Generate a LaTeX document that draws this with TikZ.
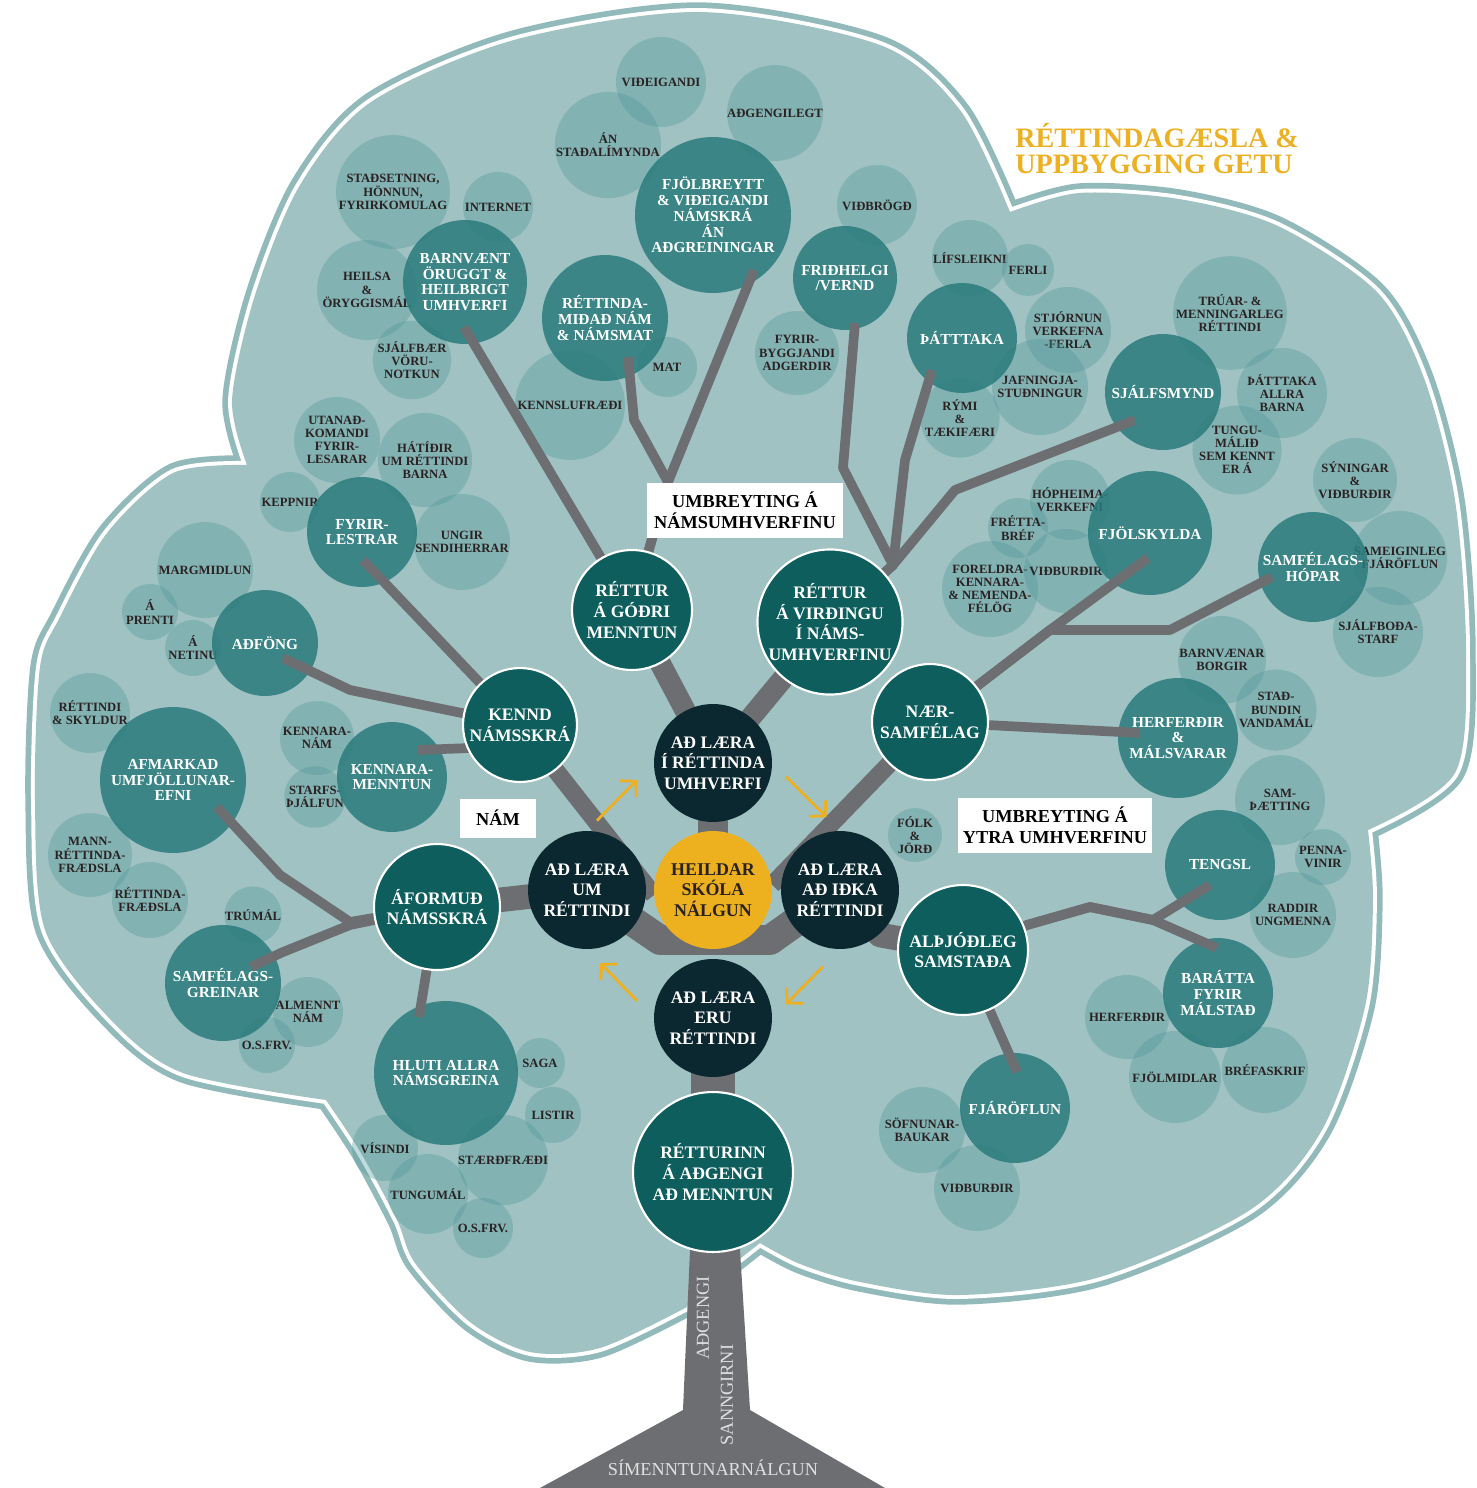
\documentclass[tikz,border=0pt]{standalone}
\usepackage{fontspec}
\setmainfont{Liberation Serif}
\usetikzlibrary{arrows.meta,calc}

\definecolor{cloudc}{HTML}{A0C2C3}
\definecolor{rimc}{HTML}{92BABB}
\definecolor{lightc}{HTML}{4E9597}
\definecolor{midc}{HTML}{2A7B7C}
\definecolor{mainc}{HTML}{0E5E5E}
\definecolor{corec}{HTML}{0B2730}
\definecolor{hubc}{HTML}{EDB120}
\definecolor{twigc}{HTML}{6D6E72}
\definecolor{inkc}{HTML}{2A2222}
\definecolor{goldc}{HTML}{ECB022}

\pgfdeclarelayer{back}
\pgfdeclarelayer{light}
\pgfdeclarelayer{mid}
\pgfdeclarelayer{twigs}
\pgfsetlayers{back,light,mid,twigs,main}

\tikzset{
  rad/.style={minimum size=#1*0.04cm},
  bub/.style={circle, inner sep=0pt, align=center},
  soft/.style={bub, fill=lightc, fill opacity=0.35, text opacity=1, text=inkc,
    font=\fontsize{7.2}{7.5}\selectfont\bfseries},
  deep/.style={bub, fill=midc, fill opacity=0.85, text opacity=1, text=white,
    font=\fontsize{8.7}{9}\selectfont\bfseries},
  ring/.style={bub, fill=mainc, draw=white, line width=1.2pt, text=white,
    font=\fontsize{10}{11.8}\selectfont\bfseries},
  core/.style={bub, fill=corec, text=white, font=\fontsize{10}{11.6}\selectfont\bfseries},
  sun/.style={bub, fill=hubc, text=inkc, font=\fontsize{10.2}{11.6}\selectfont\bfseries},
  tag/.style={fill=white, inner sep=0pt, align=center, minimum height=1.1cm, text=black,
    font=\fontsize{10.4}{12}\selectfont\bfseries},
  twig/.style={draw=twigc, line width=5.5pt, line join=round},
  limb/.style={draw=twigc, line width=12pt, line join=round},
  cyc/.style={draw=goldc, line width=1.6pt, -{Straight Barb[length=6pt,width=13pt]}},
  bark/.style={inner sep=0pt, text=white!88!black, font=\fontsize{10.4}{12}\selectfont},
}

\begin{document}
\begin{tikzpicture}[x=0.02cm, y=-0.02cm]
  \useasboundingbox (0,0) rectangle (1477,1488);

  % crown of the tree
  \begin{pgfonlayer}{back}
    \fill[white] (0,0) rectangle (1477,1488);
    \path[save path=\crown]
      plot[smooth] coordinates {(247,465) (232,400) (255,295) (300,185) (371,102) (514,40) (700,12) (880,45) (960,110) (1010,212)}
      -- plot[smooth] coordinates {(1010,212) (1079,193) (1179,199) (1278,226) (1377,292) (1424,378) (1455,500) (1466,650) (1455,773) (1368,830)}
      -- plot[smooth] coordinates {(1368,830) (1373,900) (1365,1007) (1322,1130) (1250,1210) (1100,1277) (960,1295) (860,1282) (800,1264) (760,1243)}
      -- (713,1280)
      -- plot[smooth] coordinates {(687,1307) (600,1348) (530,1352) (470,1322) (415,1263) (397,1220) (361,1153) (326,1100)}
      -- plot[smooth] coordinates {(326,1100) (183,1073) (111,1020) (45,930) (35,800) (40,667) (60,617) (107,533) (173,473) (247,465)}
      -- cycle;
    \path[draw=rimc, line width=11pt, line join=round, use path=\crown];
    \path[draw=white, line width=4.5pt, line join=round, use path=\crown];
    \path[fill=cloudc, use path=\crown];
  \end{pgfonlayer}

  % pale circles
  \begin{pgfonlayer}{light}
    \node[soft, rad=45] (videig) at (661,82) {VIÐEIGANDI};
    \node[soft, rad=48] (adgen) at (775,113) {AÐGENGILEGT};
    \node[soft, rad=52] (stadal) at (608,145) {ÁN\\STAÐALÍMYNDA};
    \node[soft, rad=57] (stads) at (393,192) {STAÐSETNING,\\HÖNNUN,\\FYRIRKOMULAG};
    \node[soft, rad=35] (inter) at (498,207) {INTERNET};
    \node[soft, rad=50] (heils) at (367,290) {HEILSA\\\&\\ÖRYGGISMÁL};
    \node[soft, rad=38] (sjbaer) at (412,360) {SJÁLFBÆR\\VÖRU-\\NOTKUN};
    \node[soft, rad=40] (vidbr) at (877,205) {VIÐBRÖGÐ};
    \node[soft, rad=42] (fyrib) at (797,353) {FYRIR-\\BYGGJANDI\\ADGERDIR};
    \node[soft, rad=30] (mat) at (667,367) {MAT};
    \node[soft, rad=55] (kennsl) at (570,405) {KENNSLUFRÆÐI};
    \node[soft, rad=38] (lifs) at (970,258) {LÍFSLEIKNI};
    \node[soft, rad=26] (ferli) at (1028,270) {FERLI};
    \node[soft, rad=43] (stjorn) at (1068,330) {STJÓRNUN\\VERKEFNA\\-FERLA};
    \node[soft, rad=48] (jafn) at (1040,387) {JAFNINGJA-\\STUÐNINGUR};
    \node[soft, rad=38] (rymi) at (960,418) {RÝMI\\\&\\TÆKIFÆRI};
    \node[soft, rad=55] (truar) at (1230,313) {TRÚAR- \&\\MENNINGARLEG\\RÉTTINDI};
    \node[soft, rad=45] (allra) at (1282,393) {ÞÁTTTAKA\\ALLRA\\BARNA};
    \node[soft, rad=43] (tungm) at (1237,450) {TUNGU-\\MÁLIÐ\\SEM KENNT\\ER Á};
    % right side
    \node[soft, rad=42] (syn) at (1355,480) {SÝNINGAR\\\&\\VIÐBURÐIR};
    \node[soft, rad=47] (sameig) at (1400,558) {SAMEIGINLEG\\FJÁRÖFLUN};
    \node[soft, rad=45] (sjbod) at (1378,632) {SJÁLFBOÐA-\\STARF};
    \node[soft, rad=40] (hoph) at (1070,500) {HÓPHEIMA-\\VERKEFNI};
    \node[soft, rad=30] (fretta) at (1018,528) {FRÉTTA-\\BRÉF};
    \node[soft, rad=45] (forel) at (990,589) {FORELDRA-\\KENNARA-\\\& NEMENDA-\\FÉLÖG};
    \node[soft, rad=42] (vidbA) at (1066,571) {VIÐBURÐIR};
    \node[soft, rad=44] (borgir) at (1222,660) {BARNVÆNAR\\BORGIR};
    \node[soft, rad=40] (stadb) at (1276,710) {STAÐ-\\BUNDIN\\VANDAMÁL};
    \node[soft, rad=45] (samth) at (1280,800) {SAM-\\ÞÆTTING};
    \node[soft, rad=28] (penna) at (1323,857) {PENNA-\\VINIR};
    \node[soft, rad=43] (raddir) at (1293,915) {RADDIR\\UNGMENNA};
    \node[soft, rad=42] (herfB) at (1127,1017) {HERFERÐIR};
    \node[soft, rad=46] (fjolm) at (1175,1077) {FJÖLMIDLAR};
    \node[soft, rad=43] (brefa) at (1265,1070) {BRÉFASKRIF};
    \node[soft, rad=43] (sofn) at (922,1130) {SÖFNUNAR-\\BAUKAR};
    \node[soft, rad=43] (vidbB) at (977,1188) {VIÐBURÐIR};
    \node[soft, rad=27] (folk) at (915,835) {FÓLK\\\&\\JÖRÐ};
    % left side
    \node[soft, rad=43] (utan) at (337,440) {UTANAÐ-\\KOMANDI\\FYRIR-\\LESARAR};
    \node[soft, rad=47] (hatid) at (425,460) {HÁTÍÐIR\\UM RÉTTINDI\\BARNA};
    \node[soft, rad=30] (kepp) at (290,502) {KEPPNIR};
    \node[soft, rad=48] (ungir) at (462,542) {UNGIR\\SENDIHERRAR};
    \node[soft, rad=48] (margm) at (205,570) {MARGMIDLUN};
    \node[soft, rad=28] (prent) at (150,612) {Á\\PRENTI};
    \node[soft, rad=28] (netin) at (193,648) {Á\\NETINU};
    \node[soft, rad=40] (skyld) at (90,713) {RÉTTINDI\\\& SKYLDUR};
    \node[soft, rad=37] (knam) at (317,738) {KENNARA-\\NÁM};
    \node[soft, rad=28] (starfs) at (315,797) {STARFS-\\ÞJÁLFUN};
    \node[soft, rad=42] (mannr) at (90,855) {MANN-\\RÉTTINDA-\\FRÆDSLA};
    \node[soft, rad=38] (rfr) at (150,900) {RÉTTINDA-\\FRÆÐSLA};
    \node[soft, rad=25] (trum) at (253,915) {TRÚMÁL};
    \node[soft, rad=35] (almen) at (308,1012) {ALMENNT\\NÁM};
    \node[soft, rad=28] (osfA) at (267,1045) {O.S.FRV.};
    \node[soft, rad=25] (saga) at (540,1063) {SAGA};
    \node[soft, rad=28] (listir) at (553,1115) {LISTIR};
    \node[soft, rad=33] (visind) at (385,1148) {VÍSINDI};
    \node[soft, rad=45] (staerd) at (503,1160) {STÆRÐFRÆÐI};
    \node[soft, rad=40] (tungu) at (428,1194) {TUNGUMÁL};
    \node[soft, rad=30] (osfB) at (483,1228) {O.S.FRV.};
  \end{pgfonlayer}

  % branch topics
  \begin{pgfonlayer}{mid}
    \node[deep, rad=78] (fjolb) at (713,215) {FJÖLBREYTT\\\& VIÐEIGANDI\\NÁMSKRÁ\\ÁN\\AÐGREININGAR};
    \node[deep, rad=62] (barn) at (465,282) {BARNVÆNT\\ÖRUGGT \&\\HEILBRIGT\\UMHVERFI};
    \node[deep, rad=63] (retmid) at (605,318) {RÉTTINDA-\\MIÐAÐ NÁM\\\& NÁMSMAT};
    \node[deep, rad=52] (frid) at (845,278) {FRIÐHELGI\\/VERND};
    \node[deep, rad=55] (thatt) at (962,338) {ÞÁTTTAKA};
    \node[deep, rad=58] (sjalf) at (1163,392) {SJÁLFSMYND};
    \node[deep, rad=62] (fjols) at (1150,533) {FJÖLSKYLDA};
    \node[deep, rad=55] (samh) at (1313,567) {SAMFÉLAGS-\\HÓPAR};
    \node[deep, rad=60] (herf) at (1178,738) {HERFERÐIR\\\&\\MÁLSVARAR};
    \node[deep, rad=55] (teng) at (1220,865) {TENGSL};
    \node[deep, rad=55] (barat) at (1218,993) {BARÁTTA\\FYRIR\\MÁLSTAÐ};
    \node[deep, rad=55] (fjar) at (1015,1108) {FJÁRÖFLUN};
    \node[deep, rad=55] (fyrl) at (362,532) {FYRIR-\\LESTRAR};
    \node[deep, rad=53] (adf) at (265,643) {AÐFÖNG};
    \node[deep, rad=55] (kenm) at (392,777) {KENNARA-\\MENNTUN};
    \node[deep, rad=73] (afm) at (173,780) {AFMARKAD\\UMFJÖLLUNAR-\\EFNI};
    \node[deep, rad=58] (samg) at (223,983) {SAMFÉLAGS-\\GREINAR};
    \node[deep, rad=72] (hluti) at (446,1073) {HLUTI ALLRA\\NÁMSGREINA};
  \end{pgfonlayer}

  % main rights round the core
  \node[ring, rad=60] (rGodri) at (632,610) {RÉTTUR\\Á GÓÐRI\\MENNTUN};
  \node[ring, rad=68] (rVird) at (830,622) {RÉTTUR\\Á VIRÐINGU\\Í NÁMS-\\UMHVERFINU};
  \node[ring, rad=57] (kennd) at (520,725) {KENND\\NÁMSSKRÁ};
  \node[ring, rad=58] (naer) at (930,722) {NÆR-\\SAMFÉLAG};
  \node[ring, rad=63] (aform) at (437,907) {ÁFORMUÐ\\NÁMSSKRÁ};
  \node[ring, rad=65] (alth) at (963,950) {ALÞJÓÐLEG\\SAMSTAÐA};
  \node[ring, rad=80] (rAdg) at (713,1172) {RÉTTURINN\\Á AÐGENGI\\AÐ MENNTUN};

  % the four ways of learning and the hub
  \node[core, rad=59] (coreT) at (713,763) {AÐ LÆRA\\Í RÉTTINDA\\UMHVERFI};
  \node[core, rad=59] (coreL) at (587,890) {AÐ LÆRA\\UM\\RÉTTINDI};
  \node[core, rad=59] (coreR) at (840,890) {AÐ LÆRA\\AÐ IÐKA\\RÉTTINDI};
  \node[core, rad=59] (coreB) at (713,1018) {AÐ LÆRA\\ERU\\RÉTTINDI};
  \node[sun, rad=59] (hub) at (713,890) {HEILDAR\\SKÓLA\\NÁLGUN};

  % cycle arrows
  \draw[cyc] ($(coreL.north)!0.15!(coreT.west)$) -- ($(coreL.north)!0.75!(coreT.west)$);
  \draw[cyc] ($(coreT.east)!0.2!(coreR.north)$) -- ($(coreT.east)!0.8!(coreR.north)$);
  \draw[cyc] ($(coreR.south)!0.25!(coreB.east)$) -- ($(coreR.south)!0.8!(coreB.east)$);
  \draw[cyc] ($(coreB.west)!0.25!(coreL.south)$) -- ($(coreB.west)!0.8!(coreL.south)$);

  % labels
  \node[tag, minimum width=3.92cm] (umbrN) at (745,510) {UMBREYTING Á\\NÁMSUMHVERFINU};
  \node[tag, minimum width=1.52cm, minimum height=0.78cm] (nam) at (498,818) {NÁM};
  \node[tag, minimum width=3.9cm] (umbrY) at (1055,825) {UMBREYTING Á\\YTRA UMHVERFINU};
  \node[inner sep=0pt, anchor=west, align=left, text=goldc,
    font=\fontsize{16}{14.8}\selectfont\bfseries] (head) at (1015,149) {RÉTTINDAGÆSLA \&\\UPPBYGGING GETU};

  % trunk words
  \node[bark, rotate=90] (adgengi) at (703,1318) {AÐGENGI};
  \node[bark, rotate=90] (sanng) at (727,1395) {SANNGIRNI};
  \node[bark] (simennt) at (713,1468) {SÍMENNTUNARNÁLGUN};

  % trunk and branches
  \begin{pgfonlayer}{twigs}
    \fill[twigc] (690,1150) -- (690,1250) -- (683,1410) -- (540,1488) -- (885,1488)
      -- (750,1410) -- (740,1250) -- (740,1150) -- cycle;
    \draw[limb, line width=25pt] (coreB.center) -- (rAdg.center);
    \draw[limb, line width=17pt] (coreT.center) -- (hub.center);
    \draw[limb] (coreT.center) -- (rGodri.center);
    \draw[limb] (coreT.center) -- (rVird.center);
    \draw[limb, line width=17pt] (coreL.center) -- (660,940) -- (770,940) -- (coreR.center);
    \draw[limb, line width=14pt] (aform.center) -- (coreL.center);
    \draw[limb, line width=14pt] (coreR.center) -- (880,935) -- (alth.center);
    \draw[limb, line width=10pt] (kennd.center) -- (hub.185);
    \draw[limb, line width=10pt] (naer.center) -- (hub.5);
    % twigs out to the topics
    \draw[twig] (rGodri.center) -- ($(barn.center)+(-1,45)$);
    \draw[twig] (rGodri.center) -- (668,482) -- (634,420) -- ($(retmid.center)+(23,39)$);
    \draw[twig] (rGodri.center) -- (668,482) -- ($(fjolb.center)+(41,55)$);
    \draw[twig] (rVird.center) -- (893,565) -- (843,468) -- ($(frid.center)+(10,45)$);
    \draw[twig] (rVird.center) -- (893,565) -- (905,460) -- ($(thatt.center)+(-30,32)$);
    \draw[twig] (rVird.center) -- (893,565) -- (955,490) -- ($(sjalf.center)+(-28,28)$);
    \draw[twig] (naer.center) -- (1050,630) -- ($(fjols.center)+(-2,25)$);
    \draw[twig] (naer.center) -- (1050,630) -- (1170,630) -- ($(samh.center)+(-41,10)$);
    \draw[twig] (naer.center) -- ($(herf.center)+(-38,-5)$);
    \draw[twig] (alth.center) -- (1027,925) -- (1090,907) -- (1153,920) -- ($(teng.center)+(-10,20)$);
    \draw[twig] (alth.center) -- (1027,925) -- (1090,907) -- (1153,920) -- ($(barat.center)+(-1,-45)$);
    \draw[twig] (alth.center) -- ($(fjar.center)+(2,-36)$);
    \draw[twig] (kennd.center) -- ($(fyrl.center)+(1,28)$);
    \draw[twig] (kennd.center) -- (350,690) -- ($(adf.center)+(18,15)$);
    \draw[twig] (kennd.center) -- (470,748) -- ($(kenm.center)+(25,-27)$);
    \draw[twig] (aform.center) -- (350,922) -- (280,875) -- ($(afm.center)+(44,27)$);
    \draw[twig] (aform.center) -- (350,925) -- (283,952) -- ($(samg.center)+(28,-16)$);
    \draw[twig] (aform.center) -- ($(hluti.center)+(-27,-56)$);
  \end{pgfonlayer}
\end{tikzpicture}
\end{document}
